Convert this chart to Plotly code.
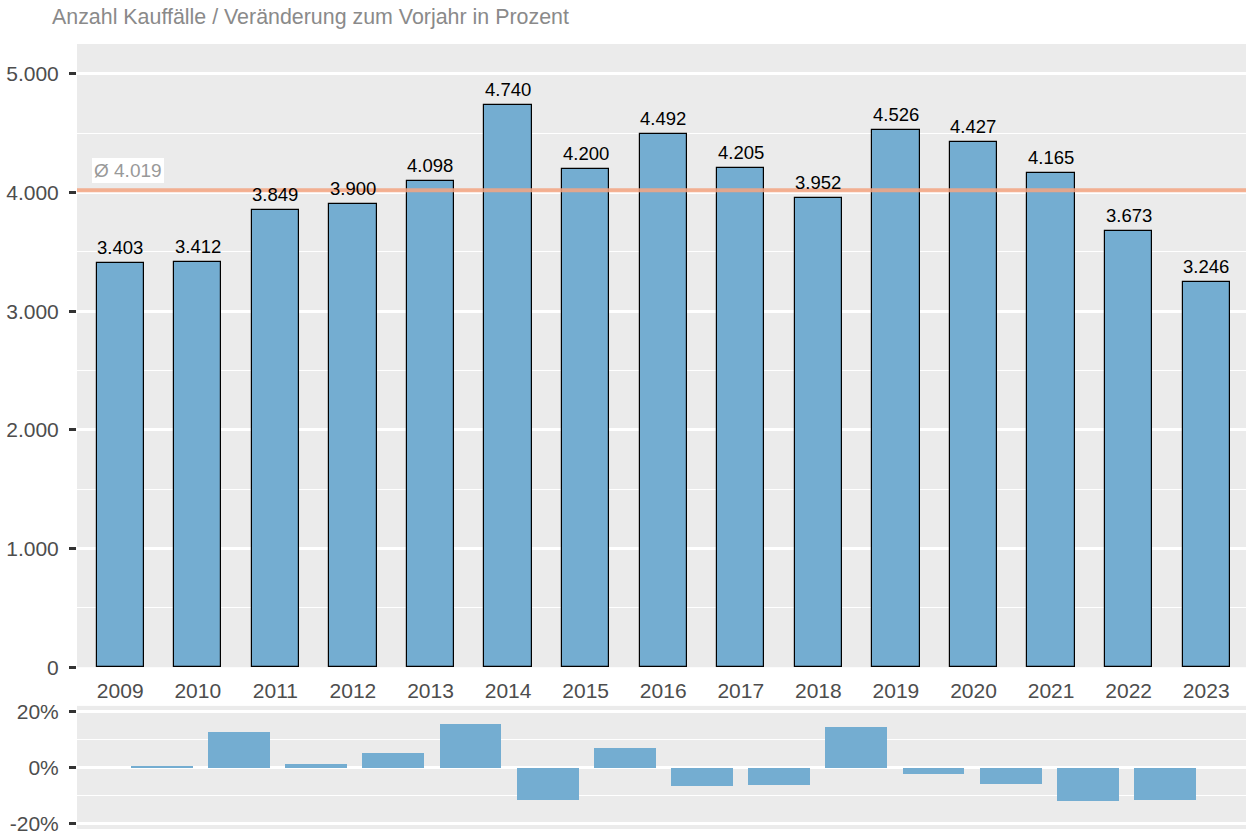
import plotly.graph_objects as go

years = ["2009", "2010", "2011", "2012", "2013", "2014", "2015", "2016",
         "2017", "2018", "2019", "2020", "2021", "2022", "2023"]
kauffaelle = [3403, 3412, 3849, 3900, 4098, 4740, 4200, 4492,
              4205, 3952, 4526, 4427, 4165, 3673, 3246]
label_text = ["3.403", "3.412", "3.849", "3.900", "4.098", "4.740", "4.200", "4.492",
              "4.205", "3.952", "4.526", "4.427", "4.165", "3.673", "3.246"]
pct_years = ["2010", "2011", "2012", "2013", "2014", "2015", "2016",
             "2017", "2018", "2019", "2020", "2021", "2022", "2023"]
pct_change = [0.3, 12.8, 1.3, 5.1, 15.7, -11.4, 7.0, -6.4, -6.0, 14.5, -2.2, -5.9, -11.8, -11.6]
mean_value = 4019
mean_label = "Ø 4.019"
y_ticks = [0, 1000, 2000, 3000, 4000, 5000]
y_ticktext = ["0", "1.000", "2.000", "3.000", "4.000", "5.000"]
pct_ticks = [-20, 0, 20]
pct_ticktext = ["-20%", "0%", "20%"]
title_text = "Anzahl Kauffälle / Veränderung zum Vorjahr in Prozent"

FONT = "Liberation Sans, Arial, Helvetica, sans-serif"
BAR = "#74ADD1"
PANEL = "#EBEBEB"

x_top = list(range(len(years)))
x_bot = list(range(1, len(pct_years) + 1))

fig = go.Figure()
fig.add_trace(go.Bar(
    x=x_top, y=kauffaelle, width=0.61,
    marker=dict(color=BAR, line=dict(color="#000000", width=1.2)),
    xaxis="x", yaxis="y", showlegend=False, hoverinfo="skip",
))
fig.add_trace(go.Bar(
    x=x_bot, y=pct_change, width=0.8,
    marker=dict(color=BAR, line=dict(width=0)),
    xaxis="x2", yaxis="y2", showlegend=False, hoverinfo="skip",
))

annotations = []
for xi, v, t in zip(x_top, kauffaelle, label_text):
    annotations.append(dict(
        x=xi, y=v, xref="x", yref="y", text=t, showarrow=False,
        yanchor="bottom", xanchor="center", yshift=3,
        font=dict(family=FONT, size=18.5, color="#000000"),
    ))
annotations.append(dict(
    x=-0.367, y=mean_value, xref="x", yref="y", text=mean_label, showarrow=False,
    xanchor="left", yanchor="bottom", yshift=7,
    bgcolor="#FFFFFF", borderpad=2, borderwidth=0,
    font=dict(family=FONT, size=19, color="#999999"),
))

H = 844
fig.update_layout(
    width=1246, height=H, autosize=False,
    margin=dict(l=77, r=0, t=44, b=0, pad=0),
    paper_bgcolor="#FFFFFF", plot_bgcolor=PANEL,
    bargap=0, barmode="overlay",
    title=dict(text=title_text, x=52 / 1246, xanchor="left", xref="container",
               y=1 - 17 / H, yanchor="middle", yref="container",
               font=dict(family=FONT, size=21.4, color="#8A8A8A")),
    annotations=annotations,
    shapes=[dict(type="line", xref="x domain", yref="y", x0=0, x1=1,
                 y0=mean_value, y1=mean_value,
                 line=dict(color="#F4A582", width=4), opacity=0.85, layer="above")],
    xaxis=dict(domain=[0, 1], range=[-0.557, 14.513], tickmode="array",
               tickvals=x_top, ticktext=years, showgrid=False, zeroline=False,
               ticks="outside", ticklen=2, tickcolor="rgba(0,0,0,0)",
               ticklabelstandoff=3,
               tickfont=dict(family=FONT, size=21, color="#4D4D4D"),
               anchor="y", fixedrange=True),
    yaxis=dict(domain=[0.2101, 1], range=[0, 5252], tickmode="array",
               tickvals=y_ticks, ticktext=y_ticktext,
               showgrid=True, gridcolor="#FFFFFF", gridwidth=2.5, zeroline=False,
               minor=dict(dtick=500, tick0=0, showgrid=True, gridcolor="#FFFFFF",
                          gridwidth=1.2, ticks=""),
               ticks="outside", ticklen=7, tickwidth=2.5, tickcolor="#333333",
               ticklabelstandoff=6,
               tickfont=dict(family=FONT, size=21, color="#4D4D4D"),
               anchor="x", fixedrange=True),
    xaxis2=dict(domain=[0, 1], range=[-0.099, 15.05], showticklabels=False,
                showgrid=False, zeroline=False, ticks="", anchor="y2", fixedrange=True),
    yaxis2=dict(domain=[0.0051, 0.1611], range=[-21.8, 22.0], tickmode="array",
                tickvals=pct_ticks, ticktext=pct_ticktext,
                showgrid=True, gridcolor="#FFFFFF", gridwidth=2.5, zeroline=False,
                minor=dict(tickvals=[-10, 10], showgrid=True, gridcolor="#FFFFFF",
                           gridwidth=1.2, ticks=""),
                ticks="outside", ticklen=7, tickwidth=2.5, tickcolor="#333333",
                ticklabelstandoff=6,
                tickfont=dict(family=FONT, size=21, color="#4D4D4D"),
                anchor="x2", fixedrange=True),
)

fig.write_html("out.html", config={"displayModeBar": False},
               post_script="document.body.style.margin='0px';document.body.style.overflow='hidden';")
